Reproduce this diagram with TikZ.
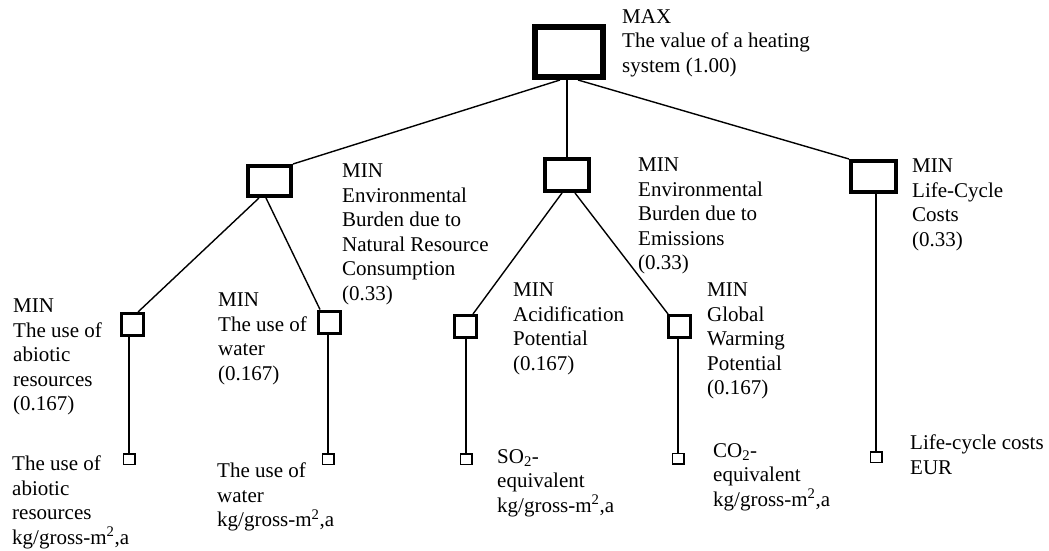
\documentclass[tikz,border=0pt]{standalone}
\usepackage{fontspec}
\setmainfont{Liberation Serif}
\usetikzlibrary{calc}
\begin{document}
\begin{tikzpicture}[x=1pt,y=-1pt,
  lbl/.style={anchor=north west, inner sep=0pt, align=left, font=\fontsize{21}{24.5}\selectfont},
  bigbox/.style={draw, line width=6pt, minimum width=68pt, minimum height=50pt, inner sep=0pt},
  midbox/.style={draw, line width=4pt, minimum width=44pt, minimum height=31pt, inner sep=0pt},
  smallbox/.style={draw, line width=3pt, minimum width=22pt, minimum height=22pt, inner sep=0pt},
  leafbox/.style={draw, line width=1.5pt, minimum width=11.5pt, minimum height=10.5pt, inner sep=0pt},
  conn/.style={line width=1.4pt}]
\useasboundingbox (0,0) rectangle (1049,551);

% boxes
\node[bigbox] (top) at (569,52) {};
\node[midbox, minimum width=43pt, minimum height=30pt] (nr) at (269.5,181) {};
\node[midbox, minimum width=44pt, minimum height=32pt] (em) at (567,175) {};
\node[midbox, minimum width=45pt, minimum height=31pt] (lcc) at (873.5,176.5) {};
\node[smallbox] (ab) at (132.5,324.5) {};
\node[smallbox] (wa) at (329.5,322) {};
\node[smallbox] (ac) at (465.5,326.5) {};
\node[smallbox] (gw) at (679.5,326.5) {};
\node[leafbox] (abl) at (129,459) {};
\node[leafbox] (wal) at (328,459) {};
\node[leafbox] (acl) at (466,459) {};
\node[leafbox] (gwl) at (678,458.5) {};
\node[leafbox] (lcl) at (876,457) {};

% labels
\node[lbl] (ttop) at (622,9) {MAX\\The value of a heating\\system (1.00)};
\node[lbl] (tnr) at (342,164) {MIN\\Environmental\\Burden due to\\Natural Resource\\Consumption\\(0.33)};
\node[lbl] (tem) at (638,158) {MIN\\Environmental\\Burden due to\\Emissions\\(0.33)};
\node[lbl] (tlcc) at (912,159) {MIN\\Life-Cycle\\Costs\\(0.33)};
\node[lbl] (tab) at (13,299) {MIN\\The use of\\abiotic\\resources\\(0.167)};
\node[lbl] (twa) at (218,293) {MIN\\The use of\\water\\(0.167)};
\node[lbl] (tac) at (513,283) {MIN\\Acidification\\Potential\\(0.167)};
\node[lbl] (tgw) at (707,283) {MIN\\Global\\Warming\\Potential\\(0.167)};
\node[lbl] (tabl) at (12,456) {The use of\\abiotic\\resources\\kg/gross-m\textsuperscript{2},a};
\node[lbl] (twal) at (217,463) {The use of\\water\\kg/gross-m\textsuperscript{2},a};
\node[lbl] (tacl) at (497,449) {SO\textsubscript{2}-\\equivalent\\kg/gross-m\textsuperscript{2},a};
\node[lbl] (tgwl) at (713,443) {CO\textsubscript{2}-\\equivalent\\kg/gross-m\textsuperscript{2},a};
\node[lbl] (tlcl) at (910,435) {Life-cycle costs\\EUR};

% connectors
\draw[conn] ([xshift=-9pt]top.south) -- (nr.north east);
\draw[conn] (em.north |- top.south) -- (em.north);
\draw[conn] ([xshift=9pt]top.south) -- (lcc.north west);
\draw[conn] ([xshift=-10.5pt]nr.south) -- ([xshift=-7pt]ab.north east);
\draw[conn] ([xshift=-3.5pt]nr.south) -- ([xshift=3pt]wa.north west);
\draw[conn] ([xshift=-5pt]em.south) -- ([xshift=-5pt]ac.north east);
\draw[conn] ([xshift=8pt]em.south) -- ([xshift=1pt]gw.north west);
\draw[conn] (abl.north |- ab.south) -- (abl.north);
\draw[conn] (wal.north |- wa.south) -- (wal.north);
\draw[conn] (acl.north |- ac.south) -- (acl.north);
\draw[conn] (gwl.north |- gw.south) -- (gwl.north);
\draw[conn] (lcl.north |- lcc.south) -- (lcl.north);
\end{tikzpicture}
\end{document}
